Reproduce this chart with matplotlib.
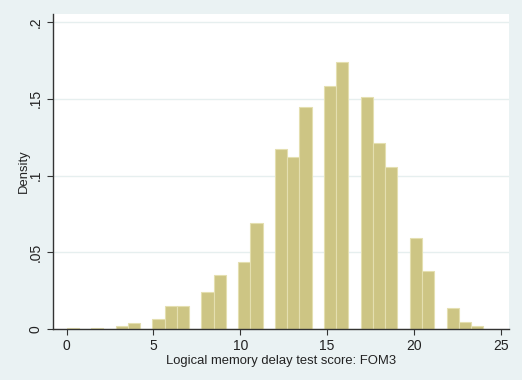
import matplotlib
matplotlib.use("Agg")
import matplotlib.pyplot as plt
import numpy as np

# Histogram: 34 bins over [0, 24]
bin_lo = 0.0
bin_hi = 24.0
n_bins = 34
densities = [0.0009, 0.0, 0.0010, 0.0, 0.0017, 0.0041, 0.0, 0.0065, 0.0152, 0.0152,
             0.0, 0.0243, 0.0352, 0.0, 0.0437, 0.0693, 0.0, 0.1173, 0.1121, 0.1449,
             0.0, 0.1585, 0.1737, 0.0, 0.1509, 0.1210, 0.1053, 0.0, 0.0595, 0.0376,
             0.0, 0.0135, 0.0048, 0.0020]
xticks = [0, 5, 10, 15, 20, 25]
yticks = [0, 0.05, 0.10, 0.15, 0.20]
ytick_labels = ["0", ".05", ".1", ".15", ".2"]
xlabel = "Logical memory delay test score: FOM3"
ylabel = "Density"

plt.rcParams['font.family'] = ['Liberation Sans', 'DejaVu Sans']

bg = '#eaf2f3'
fig = plt.figure(figsize=(5.22, 3.80), dpi=100, facecolor=bg)
ax = fig.add_axes([0.1015, 0.134, 0.8735, 0.829])
ax.set_facecolor('white')

edges = np.linspace(bin_lo, bin_hi, n_bins + 1)
width = edges[1] - edges[0]
ax.bar(edges[:-1], densities, width=width, align='edge',
       color='#cdc584', edgecolor='#e4dfb0', linewidth=0.8, zorder=2)

ax.set_xlim(-0.79, 25.48)
ax.set_ylim(0, 0.2052)
ax.set_xticks(xticks)
ax.set_yticks(yticks)
ax.set_yticklabels(ytick_labels, rotation=90, va='center')
ax.grid(axis='y', color='#e6efef', linewidth=1.0, zorder=0)
ax.set_axisbelow(True)

for s in ['top', 'right']:
    ax.spines[s].set_visible(False)
for s in ['left', 'bottom']:
    ax.spines[s].set_color('#333333')
    ax.spines[s].set_linewidth(1.0)
ax.tick_params(axis='both', colors='#333333', labelcolor='#222222',
               labelsize=10, length=4, width=0.8)
ax.set_xlabel(xlabel, fontsize=9.4, color='#222222', labelpad=1)
ax.set_ylabel(ylabel, fontsize=9.4, color='#222222', labelpad=-1)

fig.savefig('out.png', dpi=100, facecolor=bg)
